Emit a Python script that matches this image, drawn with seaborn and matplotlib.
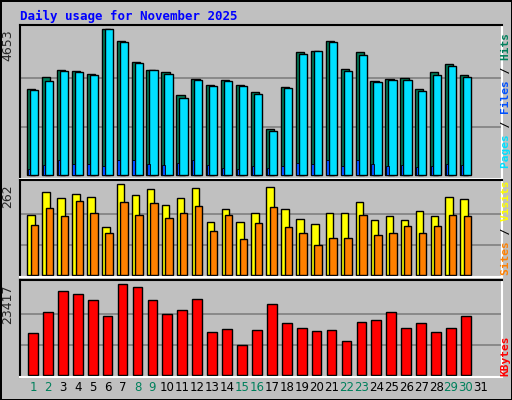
import numpy as np
import seaborn as sns
import matplotlib.pyplot as plt

days = np.arange(1, 31)
tick_days = np.arange(1, 32)
hits = [2754, 3134, 3355, 3323, 3229, 4653, 4273, 3608, 3355, 3292, 2564, 3070, 2880, 3039, 2880, 2659,
        1488, 2817, 3925, 3957, 4273, 3387, 3925, 3007, 3070, 3102, 2754, 3292, 3545, 3197]
pages = [2722, 3007, 3323, 3292, 3197, 4653, 4241, 3576, 3355, 3228, 2469, 3038, 2849, 3007, 2849, 2595,
         1424, 2785, 3861, 3957, 4241, 3323, 3830, 2975, 3038, 3038, 2690, 3197, 3482, 3133]
files = [190, 316, 475, 348, 348, 285, 475, 475, 348, 316, 380, 475, 316, 222, 190, 285,
         250, 300, 380, 350, 475, 300, 500, 350, 300, 320, 280, 300, 350, 320]
visits = [174, 239, 222, 233, 225, 140, 262, 231, 248, 202, 222, 251, 154, 191, 154, 179,
          253, 191, 162, 148, 179, 179, 211, 159, 171, 159, 185, 171, 225, 219]
sites = [145, 194, 171, 214, 179, 122, 211, 174, 208, 165, 179, 199, 128, 174, 103, 151,
         197, 140, 122, 88, 108, 108, 174, 117, 122, 142, 120, 142, 174, 171]
kbytes = [10766, 16267, 21611, 20914, 19287, 15156, 23417, 22643, 19287, 15672, 16705, 19545, 11025, 11800, 7668,
          11619, 18332, 13426, 12135, 11361, 11619, 8779, 13684, 14201, 16266, 12135, 13426, 11102, 12135, 15233]
weekend = [1, 2, 8, 9, 15, 16, 22, 23, 29, 30]

sns.set_style("white")
plt.rcParams['font.family'] = ['DejaVu Sans']
BG = "#C0C0C0"

fig = plt.figure(figsize=(5.12, 4.0), dpi=100, facecolor=BG)
fig.patch.set_edgecolor("black")
fig.patch.set_linewidth(2)

ax1 = fig.add_axes([0.039, 0.5525, 0.941, 0.385])
ax2 = fig.add_axes([0.039, 0.3075, 0.941, 0.2425])
ax3 = fig.add_axes([0.039, 0.0575, 0.941, 0.2425])


def bars(ax, off, vals, w, color, lw=1):
    sns.barplot(x=days + off, y=vals, native_scale=True, width=w, color=color,
                saturation=1, edgecolor="black", linewidth=lw, ax=ax, orient="x")


bars(ax1, -0.12, hits, 0.55, "#00805C")
bars(ax1, 0.08, pages, 0.55, "#00E0FF")
bars(ax1, -0.27, files, 0.17, "#0050FF", lw=0.6)
for p in ax1.patches[-len(files):]:
    p.set_zorder(5)
bars(ax2, -0.12, visits, 0.5, "#FFFF00")
bars(ax2, 0.1, sites, 0.5, "#FF8000")
bars(ax3, 0.0, kbytes, 0.65, "#FF0000")

for ax, top, lo, hi in [(ax1, max(hits), -0.025, 1.03), (ax2, max(visits), -0.02, 1.045),
                        (ax3, max(kbytes), -0.02, 1.045)]:
    ax.set_facecolor(BG)
    ax.set_xlim(0.13, 32.4)
    ax.set_ylim(top * lo, top * hi)
    for f in (1 / 3, 2 / 3):
        ax.axhline(top * f, color="#808080", lw=1.2, zorder=0)
    ax.set_yticks([])
    ax.set_ylabel("")
    ax.spines["top"].set_color("black")
    ax.spines["left"].set_color("black")
    ax.spines["bottom"].set_color("white")
    ax.spines["right"].set_color("white")
    for s in ax.spines.values():
        s.set_linewidth(1.5)
    ax.text(-0.012, top, str(top), transform=ax.get_yaxis_transform(), rotation=90,
            ha="right", va="top", fontsize=9)

for ax in (ax1, ax2):
    ax.set_xticks([])
ax3.set_xticks(tick_days)
ax3.set_xticklabels([str(d) for d in tick_days], fontsize=8.5)
ax3.tick_params(axis="x", length=0, pad=3)
for lbl, d in zip(ax3.get_xticklabels(), tick_days):
    lbl.set_color("#00805C" if d in weekend else "black")

fig.text(0.04, 0.96, "Daily usage for November 2025", color="#0000FF", fontsize=9,
         family="DejaVu Sans Mono", fontweight="bold", ha="left", va="center")


def side(y, parts):
    full = "".join(p for p, _ in parts)
    pos = 0
    for p, c in parts:
        s = " " * pos + p + " " * (len(full) - pos - len(p))
        fig.text(0.988, y, s, color=c, rotation=90, ha="center", va="center",
                 family="DejaVu Sans Mono", fontsize=8, fontweight="bold")
        pos += len(p)


side(0.75, [("Pages", "#00E0FF"), (" / ", "black"), ("Files", "#0050FF"), (" / ", "black"),
            ("Hits", "#00805C")])
side(0.43, [("Sites", "#FF8000"), (" / ", "black"), ("Visits", "#FFFF00")])
side(0.11, [("KBytes", "#FF0000")])

fig.savefig("out.png", dpi=100, facecolor=BG, edgecolor="black")
